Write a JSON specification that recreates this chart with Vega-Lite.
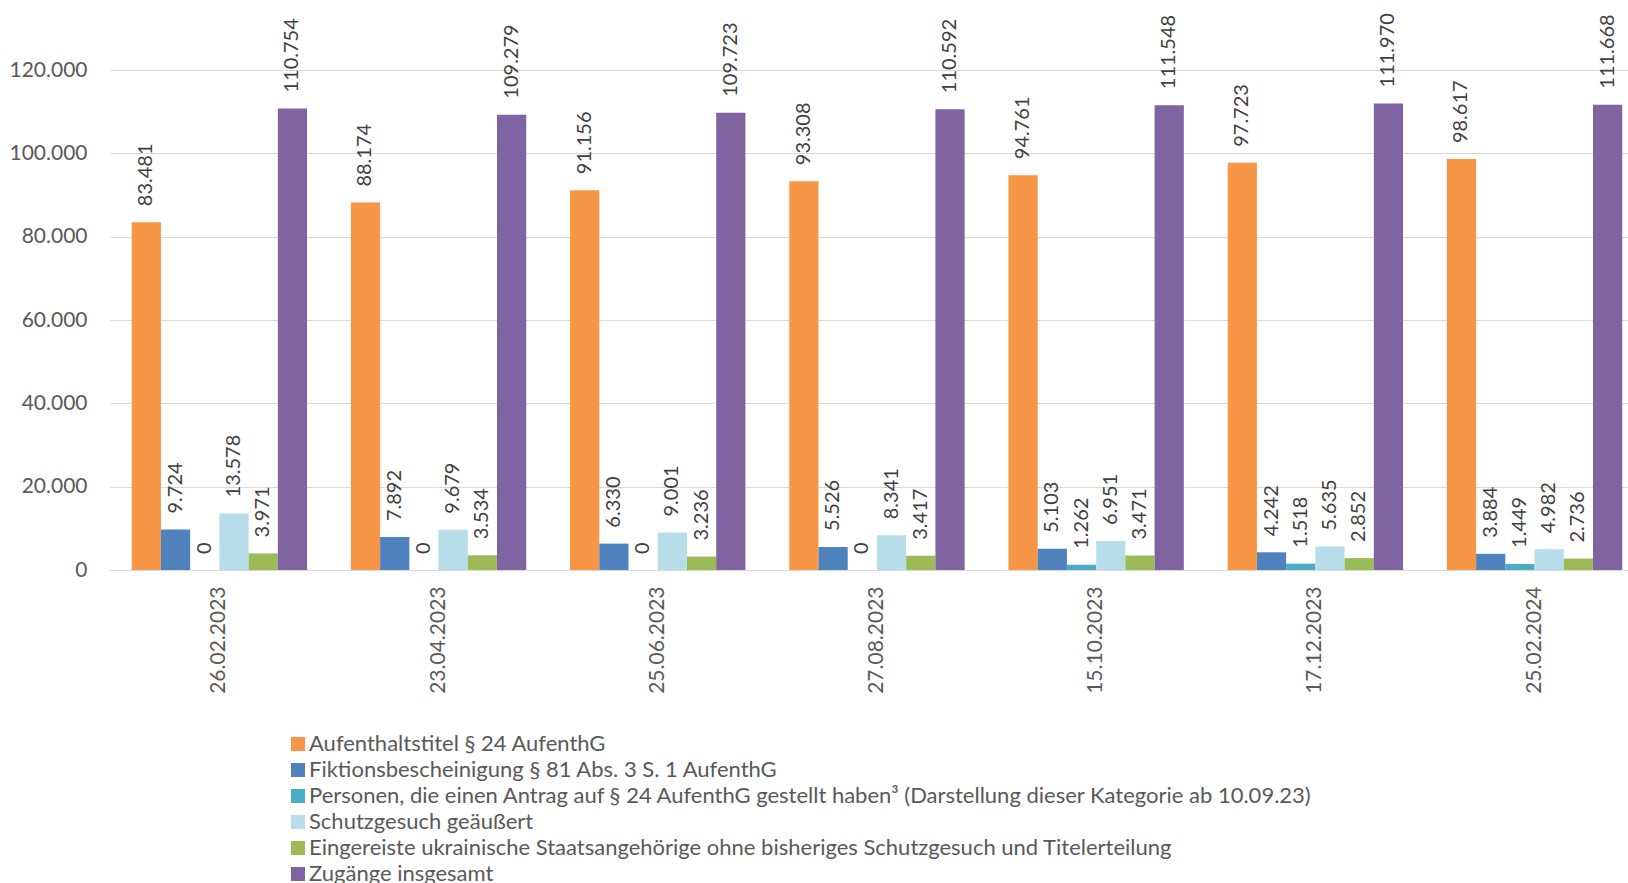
{
  "$schema": "https://vega.github.io/schema/vega-lite/v6.json",
  "autosize": {"type": "none"},
  "padding": {"left": 110, "top": 70, "right": 0, "bottom": 313},
  "width": 1518,
  "height": 500,
  "background": "white",
  "config": {
    "locale": {"number": {"decimal": ",", "thousands": ".", "grouping": [3], "currency": ["", " €"]}},
    "view": {"stroke": null},
    "font": "Lato"
  },
  "data": {
    "values": [
      {"datum": "26.02.2023", "reihe": "Aufenthaltstitel § 24 AufenthG", "wert": 83481},
      {"datum": "26.02.2023", "reihe": "Fiktionsbescheinigung § 81 Abs. 3 S. 1 AufenthG", "wert": 9724},
      {"datum": "26.02.2023", "reihe": "Personen, die einen Antrag auf § 24 AufenthG gestellt haben³ (Darstellung dieser Kategorie ab 10.09.23)", "wert": 0},
      {"datum": "26.02.2023", "reihe": "Schutzgesuch geäußert", "wert": 13578},
      {"datum": "26.02.2023", "reihe": "Eingereiste ukrainische Staatsangehörige ohne bisheriges Schutzgesuch und Titelerteilung", "wert": 3971},
      {"datum": "26.02.2023", "reihe": "Zugänge insgesamt", "wert": 110754},
      {"datum": "23.04.2023", "reihe": "Aufenthaltstitel § 24 AufenthG", "wert": 88174},
      {"datum": "23.04.2023", "reihe": "Fiktionsbescheinigung § 81 Abs. 3 S. 1 AufenthG", "wert": 7892},
      {"datum": "23.04.2023", "reihe": "Personen, die einen Antrag auf § 24 AufenthG gestellt haben³ (Darstellung dieser Kategorie ab 10.09.23)", "wert": 0},
      {"datum": "23.04.2023", "reihe": "Schutzgesuch geäußert", "wert": 9679},
      {"datum": "23.04.2023", "reihe": "Eingereiste ukrainische Staatsangehörige ohne bisheriges Schutzgesuch und Titelerteilung", "wert": 3534},
      {"datum": "23.04.2023", "reihe": "Zugänge insgesamt", "wert": 109279},
      {"datum": "25.06.2023", "reihe": "Aufenthaltstitel § 24 AufenthG", "wert": 91156},
      {"datum": "25.06.2023", "reihe": "Fiktionsbescheinigung § 81 Abs. 3 S. 1 AufenthG", "wert": 6330},
      {"datum": "25.06.2023", "reihe": "Personen, die einen Antrag auf § 24 AufenthG gestellt haben³ (Darstellung dieser Kategorie ab 10.09.23)", "wert": 0},
      {"datum": "25.06.2023", "reihe": "Schutzgesuch geäußert", "wert": 9001},
      {"datum": "25.06.2023", "reihe": "Eingereiste ukrainische Staatsangehörige ohne bisheriges Schutzgesuch und Titelerteilung", "wert": 3236},
      {"datum": "25.06.2023", "reihe": "Zugänge insgesamt", "wert": 109723},
      {"datum": "27.08.2023", "reihe": "Aufenthaltstitel § 24 AufenthG", "wert": 93308},
      {"datum": "27.08.2023", "reihe": "Fiktionsbescheinigung § 81 Abs. 3 S. 1 AufenthG", "wert": 5526},
      {"datum": "27.08.2023", "reihe": "Personen, die einen Antrag auf § 24 AufenthG gestellt haben³ (Darstellung dieser Kategorie ab 10.09.23)", "wert": 0},
      {"datum": "27.08.2023", "reihe": "Schutzgesuch geäußert", "wert": 8341},
      {"datum": "27.08.2023", "reihe": "Eingereiste ukrainische Staatsangehörige ohne bisheriges Schutzgesuch und Titelerteilung", "wert": 3417},
      {"datum": "27.08.2023", "reihe": "Zugänge insgesamt", "wert": 110592},
      {"datum": "15.10.2023", "reihe": "Aufenthaltstitel § 24 AufenthG", "wert": 94761},
      {"datum": "15.10.2023", "reihe": "Fiktionsbescheinigung § 81 Abs. 3 S. 1 AufenthG", "wert": 5103},
      {"datum": "15.10.2023", "reihe": "Personen, die einen Antrag auf § 24 AufenthG gestellt haben³ (Darstellung dieser Kategorie ab 10.09.23)", "wert": 1262},
      {"datum": "15.10.2023", "reihe": "Schutzgesuch geäußert", "wert": 6951},
      {"datum": "15.10.2023", "reihe": "Eingereiste ukrainische Staatsangehörige ohne bisheriges Schutzgesuch und Titelerteilung", "wert": 3471},
      {"datum": "15.10.2023", "reihe": "Zugänge insgesamt", "wert": 111548},
      {"datum": "17.12.2023", "reihe": "Aufenthaltstitel § 24 AufenthG", "wert": 97723},
      {"datum": "17.12.2023", "reihe": "Fiktionsbescheinigung § 81 Abs. 3 S. 1 AufenthG", "wert": 4242},
      {"datum": "17.12.2023", "reihe": "Personen, die einen Antrag auf § 24 AufenthG gestellt haben³ (Darstellung dieser Kategorie ab 10.09.23)", "wert": 1518},
      {"datum": "17.12.2023", "reihe": "Schutzgesuch geäußert", "wert": 5635},
      {"datum": "17.12.2023", "reihe": "Eingereiste ukrainische Staatsangehörige ohne bisheriges Schutzgesuch und Titelerteilung", "wert": 2852},
      {"datum": "17.12.2023", "reihe": "Zugänge insgesamt", "wert": 111970},
      {"datum": "25.02.2024", "reihe": "Aufenthaltstitel § 24 AufenthG", "wert": 98617},
      {"datum": "25.02.2024", "reihe": "Fiktionsbescheinigung § 81 Abs. 3 S. 1 AufenthG", "wert": 3884},
      {"datum": "25.02.2024", "reihe": "Personen, die einen Antrag auf § 24 AufenthG gestellt haben³ (Darstellung dieser Kategorie ab 10.09.23)", "wert": 1449},
      {"datum": "25.02.2024", "reihe": "Schutzgesuch geäußert", "wert": 4982},
      {"datum": "25.02.2024", "reihe": "Eingereiste ukrainische Staatsangehörige ohne bisheriges Schutzgesuch und Titelerteilung", "wert": 2736},
      {"datum": "25.02.2024", "reihe": "Zugänge insgesamt", "wert": 111668}
    ]
  },
  "encoding": {
    "x": {
      "field": "datum", "type": "nominal",
      "sort": ["26.02.2023", "23.04.2023", "25.06.2023", "27.08.2023", "15.10.2023", "17.12.2023", "25.02.2024"],
      "scale": {"paddingInner": 0.2, "paddingOuter": 0.0626, "align": 0.79},
      "axis": {"title": null, "labelAngle": -90, "labelFontSize": 21, "labelColor": "#595959", "labelPadding": 16, "ticks": false, "domainColor": "#D9D9D9", "domainWidth": 1, "grid": false, "labelFont": "Lato"}
    },
    "xOffset": {
      "field": "reihe", "type": "nominal",
      "sort": ["Aufenthaltstitel § 24 AufenthG", "Fiktionsbescheinigung § 81 Abs. 3 S. 1 AufenthG", "Personen, die einen Antrag auf § 24 AufenthG gestellt haben³ (Darstellung dieser Kategorie ab 10.09.23)", "Schutzgesuch geäußert", "Eingereiste ukrainische Staatsangehörige ohne bisheriges Schutzgesuch und Titelerteilung", "Zugänge insgesamt"],
      "scale": {"paddingInner": 0, "paddingOuter": 0}
    },
    "y": {
      "field": "wert", "type": "quantitative",
      "scale": {"domain": [0, 120000], "nice": false},
      "axis": {"title": null, "values": [0, 20000, 40000, 60000, 80000, 100000, 120000], "format": ",d", "labelFontSize": 21, "labelColor": "#595959", "labelPadding": 23, "ticks": false, "domain": false, "gridColor": "#D9D9D9", "gridWidth": 1, "labelFont": "Lato"}
    }
  },
  "layer": [
    {
      "mark": {"type": "bar"},
      "encoding": {
        "color": {
          "field": "reihe", "type": "nominal",
          "scale": {
            "domain": ["Aufenthaltstitel § 24 AufenthG", "Fiktionsbescheinigung § 81 Abs. 3 S. 1 AufenthG", "Personen, die einen Antrag auf § 24 AufenthG gestellt haben³ (Darstellung dieser Kategorie ab 10.09.23)", "Schutzgesuch geäußert", "Eingereiste ukrainische Staatsangehörige ohne bisheriges Schutzgesuch und Titelerteilung", "Zugänge insgesamt"],
            "range": ["#F79646", "#4F81BD", "#4BACC6", "#B7DEE8", "#9BBB59", "#8064A2"]
          },
          "legend": {
            "title": null, "orient": "none", "legendX": 177, "legendY": 663, "direction": "vertical",
            "symbolType": "square", "symbolSize": 196, "symbolStrokeWidth": 0, "symbolOpacity": 1,
            "labelFontSize": 22, "labelColor": "#595959", "labelLimit": 1500, "labelOffset": 0, "rowPadding": 4, "labelFont": "Lato"
          }
        }
      }
    },
    {
      "mark": {"type": "text", "angle": 270, "align": "left", "baseline": "middle", "dx": 16, "fontSize": 20, "color": "#404040", "font": "Lato"},
      "encoding": {
        "text": {"field": "wert", "type": "quantitative", "format": ",d"}
      }
    }
  ]
}
